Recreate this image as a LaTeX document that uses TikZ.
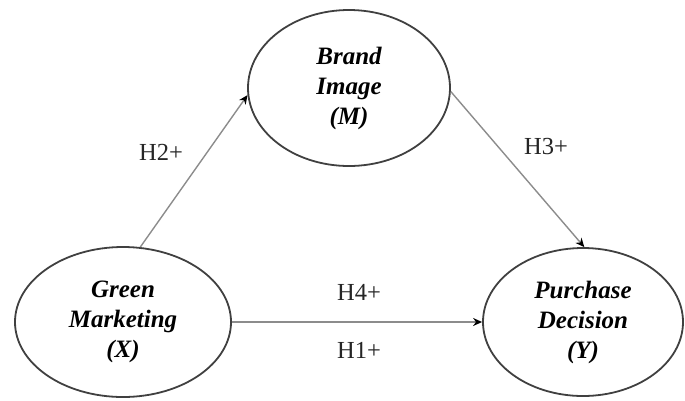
\documentclass[tikz,border=0pt]{standalone}
\usepackage{fontspec}
\setmainfont{Liberation Serif}
\usetikzlibrary{shapes.geometric,arrows.meta}
\begin{document}
\begin{tikzpicture}[x=1pt,y=-1pt,
  construct/.style={ellipse,draw=black!75,line width=1.8pt,inner sep=0pt,
    align=center,font=\fontsize{25}{30}\selectfont\bfseries\itshape},
  path/.style={draw=black!45,line width=1.4pt,-{Stealth[black,length=9pt,width=8pt]}},
  hlabel/.style={font=\fontsize{24.5}{28}\selectfont,text=black!85}]
\useasboundingbox (0,0) rectangle (685,400);
\node[construct,minimum width=202pt,minimum height=156pt] (m) at (349,88) {Brand\\Image\\(M)};
\node[construct,minimum width=216pt,minimum height=150pt] (x) at (123,322) {Green\\Marketing\\(X)};
\node[construct,minimum width=200pt,minimum height=148pt] (y) at (583,322) {Purchase\\Decision\\(Y)};
\draw[path] (x.77) -- (m.184);
\draw[path] (m.358) -- (y.89);
\draw[path] (x.east) -- (y.west);
\node[hlabel] (h2) at (161,152) {H2+};
\node[hlabel] (h3) at (546,147) {H3+};
\node[hlabel] (h4) at (359,292) {H4+};
\node[hlabel] (h1) at (359,350) {H1+};
\end{tikzpicture}
\end{document}
